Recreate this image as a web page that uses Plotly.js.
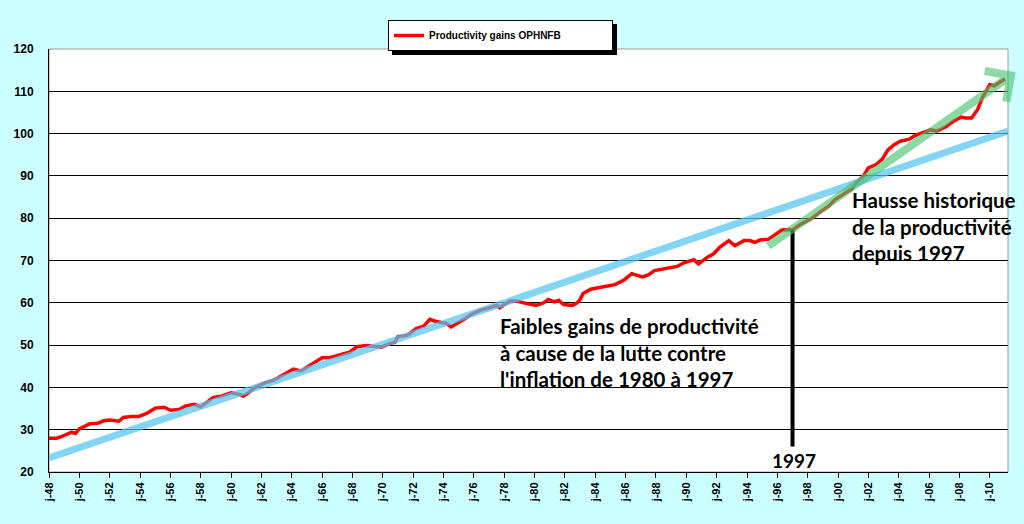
<!DOCTYPE html>
<html>
<head>
<meta charset="utf-8">
<script src="https://cdn.plot.ly/plotly-3.0.1.min.js"></script>
<style>html,body{margin:0;padding:0;background:#CCFFFF;}#chart{width:1024px;height:524px;}</style>
</head>
<body>
<div id="chart"></div>
<script>
// Productivity (OPHNFB) readings: decimal year and index value
const years = [1948.0,1948.5,1948.9,1949.5,1949.75,1950.0,1950.7,1951.2,1951.6,1952.0,1952.6,1952.9,1953.4,1953.9,1954.4,1955.0,1955.6,1956.0,1956.6,1957.0,1957.6,1958.0,1958.8,1959.4,1960.0,1960.6,1960.8,1961.1,1961.5,1962.1,1962.8,1963.5,1964.1,1964.6,1965.2,1966.0,1966.5,1967.2,1967.8,1968.3,1968.9,1969.6,1969.9,1970.4,1970.8,1971.0,1971.6,1971.8,1972.2,1972.7,1973.1,1973.4,1973.8,1974.2,1974.5,1974.9,1975.4,1975.8,1976.4,1977.0,1977.5,1977.7,1978.0,1978.4,1978.8,1979.5,1980.1,1980.6,1980.9,1981.3,1981.6,1981.9,1982.5,1982.8,1983.0,1983.2,1983.7,1984.1,1984.8,1985.3,1985.9,1986.4,1987.1,1987.5,1987.9,1988.7,1989.4,1989.8,1990.5,1990.8,1991.4,1991.8,1992.2,1992.8,1993.2,1993.8,1994.2,1994.5,1994.9,1995.4,1995.9,1996.3,1996.8,1997.0,1997.5,1998.2,1998.8,1999.4,1999.8,2000.4,2000.9,2001.2,2001.7,2002.0,2002.5,2002.9,2003.3,2003.7,2004.1,2004.7,2005.0,2005.4,2006.1,2006.5,2007.1,2007.6,2008.1,2008.4,2008.8,2009.2,2009.5,2010.0,2010.3,2010.6,2011.0];
const productivity = [28.0,28.0,28.5,29.4,29.1,30.2,31.4,31.5,32.1,32.3,32.0,32.9,33.1,33.1,33.8,35.1,35.3,34.6,34.8,35.6,36.0,35.4,37.6,38.0,38.7,38.3,37.9,38.6,39.8,40.9,41.7,43.2,44.3,43.9,45.2,47.0,47.0,47.8,48.3,49.6,49.9,49.6,49.5,50.3,50.7,52.0,52.3,52.8,53.9,54.5,56.1,55.7,55.4,55.1,54.3,55.1,56.2,57.2,58.2,58.8,59.4,58.8,59.6,60.4,60.4,59.8,59.4,60.0,60.8,60.2,60.6,59.6,59.4,60.0,60.8,62.2,63.2,63.5,64.0,64.3,65.4,66.9,66.1,66.6,67.6,68.2,68.6,69.4,70.2,69.2,70.8,71.6,73.1,74.7,73.5,74.7,74.7,74.3,74.9,75.0,76.3,77.2,77.3,77.2,78.5,79.8,81.4,82.9,84.4,85.8,86.9,88.3,90.1,91.9,92.7,93.9,96.2,97.4,98.2,98.7,99.4,100.0,100.9,100.6,101.6,102.9,103.9,103.7,103.7,105.7,108.4,111.6,111.3,112.0,112.9];

// Long-run trend line (blue)
const trendYears = [1948.0, 2011.2];
const trendValues = [23.3, 100.6];

// Post-1997 trend arrow (green)
const arrowYears = [1995.3, 2011.7];
const arrowValues = [73.2, 114.5];

// 1997 marker (black)
const markerYears = [1997.0, 1997.0];
const markerValues = [77.2, 26.0];

// Axis ticks
const tickYears = [1948,1950,1952,1954,1956,1958,1960,1962,1964,1966,1968,1970,1972,1974,1976,1978,1980,1982,1984,1986,1988,1990,1992,1994,1996,1998,2000,2002,2004,2006,2008,2010];
const tickLabels = ['j-48','j-50','j-52','j-54','j-56','j-58','j-60','j-62','j-64','j-66','j-68','j-70','j-72','j-74','j-76','j-78','j-80','j-82','j-84','j-86','j-88','j-90','j-92','j-94','j-96','j-98','j-00','j-02','j-04','j-06','j-08','j-10'];

const seriesName = 'Productivity gains OPHNFB';
const noteLow = ['Faibles gains de productivité', 'à cause de la lutte contre', "l'inflation de 1980 à 1997"];
const noteHigh = ['Hausse historique', 'de la productivité', 'depuis 1997'];
const markerLabel = '1997';

const txtFont = {family: 'Lato, "Open Sans", sans-serif', size: 20.5, color: '#000000', weight: 'bold'};
const yearFont = {family: 'Lato, "Open Sans", sans-serif', size: 19, color: '#000000', weight: 'bold'};
const tickFont = {family: '"Liberation Sans", Arial, sans-serif', size: 11, color: '#000000', weight: 'bold'};

const traces = [
  {x: years, y: productivity, type: 'scatter', mode: 'lines', name: seriesName,
   line: {color: '#FF0000', width: 3.5}, showlegend: true, hoverinfo: 'skip'},
  {x: trendYears, y: trendValues, type: 'scatter', mode: 'lines', showlegend: false,
   line: {color: 'rgba(85,195,240,0.72)', width: 7}, hoverinfo: 'skip'},
  {x: markerYears, y: markerValues, type: 'scatter', mode: 'lines', showlegend: false,
   line: {color: '#000000', width: 4}, hoverinfo: 'skip'}
];

const annotations = [];
const lowY = [54.4, 48.1, 41.9];
noteLow.forEach((t, i) => annotations.push({text: t, x: 0.4682, xref: 'paper', y: lowY[i], yref: 'y',
  xanchor: 'left', yanchor: 'middle', showarrow: false, font: txtFont}));
const highY = [84.4, 77.9, 71.7];
noteHigh.forEach((t, i) => annotations.push({text: t, x: 0.8352, xref: 'paper', y: highY[i], yref: 'y',
  xanchor: 'left', yanchor: 'middle', showarrow: false, font: txtFont}));
annotations.push({text: markerLabel, x: 1997.1, xref: 'x', y: 22.8, yref: 'y', xanchor: 'center', yanchor: 'middle',
  showarrow: false, font: yearFont});
annotations.push({text: '', x: arrowYears[1], y: arrowValues[1], xref: 'x', yref: 'y',
  ax: arrowYears[0], ay: arrowValues[0], axref: 'x', ayref: 'y', showarrow: true,
  arrowhead: 4, arrowsize: 0.9, arrowwidth: 8, arrowcolor: 'rgba(70,195,110,0.62)', standoff: 0});

const L = 49, R = 16, T = 49, B = 52;
const W = 1024 - L - R, H = 524 - T - B;
const LEG_X = 388, LEG_Y = 20;

const layout = {
  width: 1024, height: 524,
  margin: {l: L, r: R, t: T, b: B},
  paper_bgcolor: '#CCFFFF', plot_bgcolor: '#FFFFFF',
  showlegend: true,
  legend: {x: (LEG_X - L) / W, xanchor: 'left', y: (T + H - LEG_Y) / H, yanchor: 'top', orientation: 'h',
    entrywidth: 178, entrywidthmode: 'pixels',
    bgcolor: '#FFFFFF', bordercolor: '#000000', borderwidth: 1,
    font: {family: '"Liberation Sans", Arial, sans-serif', size: 10, color: '#000000', weight: 'bold'}},
  xaxis: {range: [1948, 2011.2], tickmode: 'array', tickvals: tickYears, ticktext: tickLabels,
    tickangle: -90, ticks: 'outside', ticklen: 5, tickcolor: '#000000', tickwidth: 1,
    showline: true, linecolor: '#000000', linewidth: 1, showgrid: false, zeroline: false,
    tickfont: tickFont, fixedrange: true},
  yaxis: {range: [20, 120], dtick: 10, tick0: 20, ticks: '', showline: true, linecolor: '#000000', linewidth: 1,
    showgrid: true, gridcolor: '#000000', gridwidth: 1, zeroline: false, ticklabelstandoff: 12,
    tickfont: {family: '"Liberation Sans", Arial, sans-serif', size: 12, color: '#000000', weight: 'bold'}, fixedrange: true},
  shapes: [{type: 'rect', xref: 'paper', yref: 'paper', x0: 0, x1: 1, y0: 0, y1: 1,
    line: {color: '#9a9a9a', width: 1}, layer: 'below'}],
  annotations: annotations,
  hovermode: false
};

const gd = document.getElementById('chart');
function addShadow() {
  const lg = gd._fullLayout && gd._fullLayout.legend;
  if (!lg || !lg._width) return false;
  const sh = layout.shapes.slice();
  sh.push({type: 'rect', xref: 'paper', yref: 'paper',
    x0: (LEG_X + 4 - L) / W, x1: (LEG_X + lg._width + 4 - L) / W,
    y0: (T + H - (LEG_Y + lg._height + 4)) / H, y1: (T + H - (LEG_Y + 4)) / H,
    fillcolor: '#000000', line: {width: 0}, layer: 'above'});
  Plotly.relayout(gd, {shapes: sh});
  return true;
}
const p = Plotly.newPlot(gd, traces, layout, {displayModeBar: false, staticPlot: true});
if (!addShadow()) { p.then(addShadow); }
</script>
</body>
</html>
